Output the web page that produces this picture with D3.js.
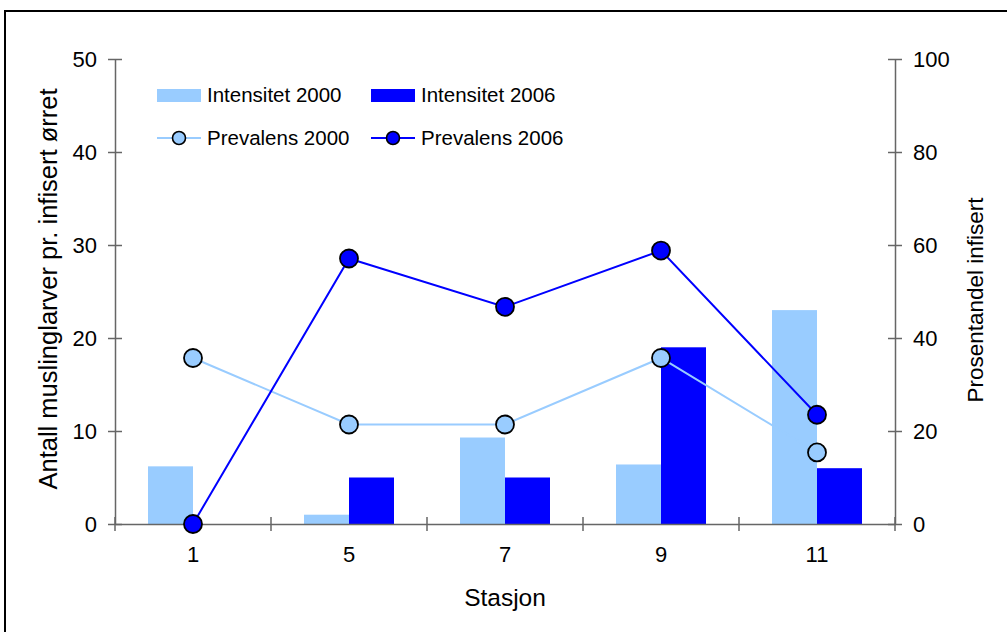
<!DOCTYPE html>
<html>
<head>
<meta charset="utf-8">
<script src="https://cdn.jsdelivr.net/npm/d3@7"></script>
<style>
  body { margin: 0; background: #fff; }
  svg text { font-family: "Liberation Sans", Arial, sans-serif; fill: #000; }
</style>
</head>
<body>
<div class="chart"></div>
<script>
// stations on the x axis
var stations = ["1", "5", "7", "9", "11"];
// intensity (left axis)
var intensitet2000 = [6.2, 1.0, 9.3, 6.4, 23.0];
var intensitet2006 = [0, 5.0, 5.0, 19.0, 6.0];
// prevalence in percent (right axis)
var prevalens2000 = [35.7, 21.4, 21.4, 35.7, 15.4];
var prevalens2006 = [0, 57.1, 46.7, 58.8, 23.5];
var leftTicks = [0, 10, 20, 30, 40, 50];
var rightTicks = [0, 20, 40, 60, 80, 100];

var lightBlue = "#99ccff";
var darkBlue = "#0000ff";
var axisColor = "#666";

var svgWidth = 1007, svgHeight = 632;
var margin = { top: 59, right: 112, bottom: 108, left: 115 };
var width = svgWidth - margin.left - margin.right;
var height = svgHeight - margin.top - margin.bottom;

var svg = d3.select(".chart").append("svg")
  .attr("width", svgWidth)
  .attr("height", svgHeight);

// outer frame
svg.append("rect")
  .attr("x", 5).attr("y", 11)
  .attr("width", 1010).attr("height", 640)
  .attr("fill", "none")
  .attr("stroke", "#000")
  .attr("stroke-width", 2);

var chartGroup = svg.append("g")
  .attr("transform", `translate(${margin.left}, ${margin.top})`);

var xScale = d3.scaleBand().domain(stations).range([0, width]);
var yLeft = d3.scaleLinear().domain([0, 50]).range([height, 0]);
var yRight = d3.scaleLinear().domain([0, 100]).range([height, 0]);

var barW = 45;

// bars
chartGroup.selectAll(".bar2000")
  .data(intensitet2000)
  .enter().append("rect")
  .attr("x", (d, i) => xScale(stations[i]) + xScale.bandwidth() / 2 - barW)
  .attr("y", d => yLeft(d))
  .attr("width", barW)
  .attr("height", d => height - yLeft(d))
  .attr("fill", lightBlue);

chartGroup.selectAll(".bar2006")
  .data(intensitet2006)
  .enter().append("rect")
  .attr("x", (d, i) => xScale(stations[i]) + xScale.bandwidth() / 2)
  .attr("y", d => yLeft(d))
  .attr("width", barW)
  .attr("height", d => height - yLeft(d))
  .attr("fill", darkBlue);

// axes
function styleAxis(g) {
  g.selectAll("path, line").attr("stroke", axisColor).attr("stroke-width", 1.5);
  g.selectAll("text").attr("font-size", "22px").attr("fill", "#000");
}

var leftAxis = d3.axisLeft(yLeft).tickValues(leftTicks).tickSizeInner(7).tickSizeOuter(0);
var gl = chartGroup.append("g").call(leftAxis);
gl.selectAll(".tick line").attr("x2", 7).attr("x1", -7);
gl.selectAll(".tick text").attr("x", -18);
styleAxis(gl);

var rightAxis = d3.axisRight(yRight).tickValues(rightTicks).tickSizeInner(7).tickSizeOuter(0);
var gr = chartGroup.append("g").attr("transform", `translate(${width}, 0)`).call(rightAxis);
gr.selectAll(".tick line").attr("x1", -7).attr("x2", 7);
gr.selectAll(".tick text").attr("x", 18);
styleAxis(gr);

// x axis: labels at band centres, ticks at band edges
var bottomAxis = d3.axisBottom(xScale).tickSize(0).tickPadding(22);
var gx = chartGroup.append("g").attr("transform", `translate(0, ${height})`).call(bottomAxis);
styleAxis(gx);
var edges = stations.map(s => xScale(s)).concat([width]);
gx.selectAll(".edge").data(edges).enter().append("line")
  .attr("x1", d => d).attr("x2", d => d)
  .attr("y1", -7).attr("y2", 7)
  .attr("stroke", axisColor).attr("stroke-width", 1.5);

// lines
var cx = (d, i) => xScale(stations[i]) + xScale.bandwidth() / 2;
var line = d3.line().x(cx).y(d => yRight(d));

chartGroup.append("path")
  .attr("d", line(prevalens2000))
  .attr("fill", "none").attr("stroke", lightBlue).attr("stroke-width", 2);
chartGroup.append("path")
  .attr("d", line(prevalens2006))
  .attr("fill", "none").attr("stroke", darkBlue).attr("stroke-width", 2);

chartGroup.selectAll(".p2000").data(prevalens2000).enter().append("circle")
  .attr("cx", cx).attr("cy", d => yRight(d)).attr("r", 9)
  .attr("fill", lightBlue).attr("stroke", "#000").attr("stroke-width", 1.8);
chartGroup.selectAll(".p2006").data(prevalens2006).enter().append("circle")
  .attr("cx", cx).attr("cy", d => yRight(d)).attr("r", 9)
  .attr("fill", darkBlue).attr("stroke", "#000").attr("stroke-width", 1.8);

// axis titles
svg.append("text")
  .attr("transform", "translate(57, 289) rotate(-90)")
  .attr("text-anchor", "middle")
  .attr("font-size", "25.5px")
  .text("Antall muslinglarver pr. infisert ørret");

svg.append("text")
  .attr("transform", "translate(983, 300) rotate(-90)")
  .attr("text-anchor", "middle")
  .attr("font-size", "22.5px")
  .text("Prosentandel infisert");

svg.append("text")
  .attr("x", 505).attr("y", 606)
  .attr("text-anchor", "middle")
  .attr("font-size", "24.5px")
  .text("Stasjon");

// legend
var legend = svg.append("g");
var legendItems = [
  { name: "Intensitet 2000", type: "bar", color: lightBlue, x: 157, y: 95 },
  { name: "Intensitet 2006", type: "bar", color: darkBlue, x: 371, y: 95 },
  { name: "Prevalens 2000", type: "line", color: lightBlue, x: 157, y: 138 },
  { name: "Prevalens 2006", type: "line", color: darkBlue, x: 371, y: 138 }
];
legendItems.forEach(function(d) {
  if (d.type === "bar") {
    legend.append("rect")
      .attr("x", d.x).attr("y", d.y - 6).attr("width", 44).attr("height", 13)
      .attr("fill", d.color);
  } else {
    legend.append("line")
      .attr("x1", d.x).attr("x2", d.x + 44).attr("y1", d.y).attr("y2", d.y)
      .attr("stroke", d.color).attr("stroke-width", 2);
    legend.append("circle")
      .attr("cx", d.x + 22).attr("cy", d.y).attr("r", 6.5)
      .attr("fill", d.color).attr("stroke", "#000").attr("stroke-width", 1.6);
  }
  legend.append("text")
    .attr("x", d.x + 50).attr("y", d.y + 7)
    .attr("font-size", "20.5px")
    .text(d.name);
});
</script>
</body>
</html>
